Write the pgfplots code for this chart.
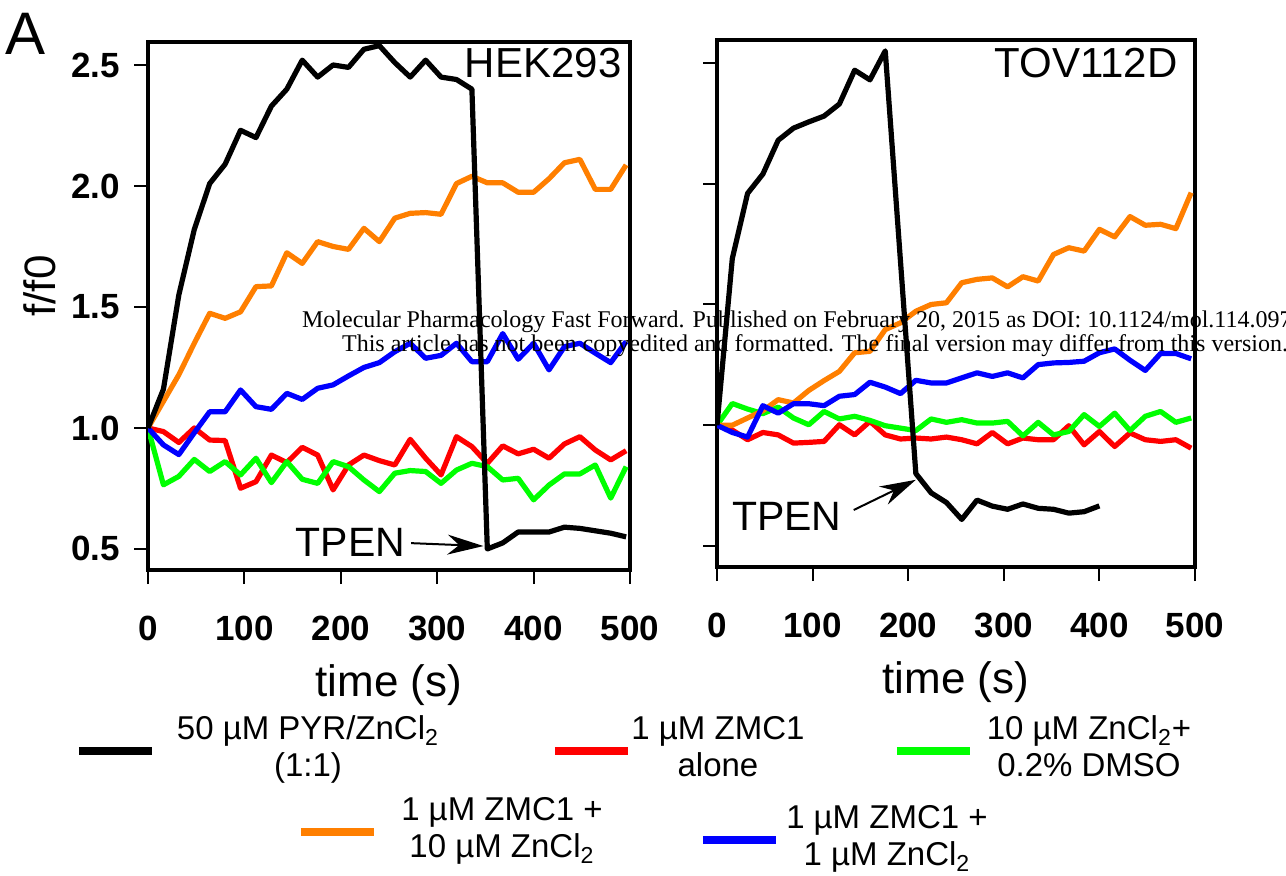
\documentclass[border=0pt]{standalone}
\usepackage{fontspec}
\setmainfont{Liberation Sans}
\newfontfamily\wmfont{Liberation Serif}
\usepackage{pgfplots}
\usepackage{pgfplotstable}
\pgfplotsset{compat=1.18}
\usetikzlibrary{arrows.meta}

\definecolor{cOrange}{RGB}{255,127,0}
\definecolor{cGreen}{RGB}{0,255,0}
\definecolor{cRed}{RGB}{255,0,0}
\definecolor{cBlue}{RGB}{0,0,255}

% HEK293 panel: time, black, orange, blue, red, green
\pgfplotstableread{
t    blk    org    blu    red    grn
0    1.00   1.00   1.00   1.00   1.00
16   1.16   1.11   0.93   0.985  0.765
32   1.55   1.22   0.89   0.94   0.80
48   1.82   1.35   0.98   1.00   0.87
64   2.01   1.474  1.067  0.95   0.82
80   2.09   1.453  1.067  0.948  0.861
96   2.23   1.48   1.157  0.751  0.806
112  2.20   1.584  1.088  0.778  0.875
128  2.33   1.587  1.077  0.888  0.774
144  2.40   1.724  1.143  0.857  0.861
160  2.52   1.68   1.118  0.92   0.788
176  2.45   1.77   1.164  0.888  0.771
192  2.50   1.75   1.178  0.744  0.861
208  2.49   1.738  1.215  0.847  0.84
224  2.565  1.825  1.25   0.888  0.785
240  2.58   1.77   1.27   0.865  0.737
256  2.51   1.867  1.315  0.847  0.813
272  2.45   1.887  1.35   0.953  0.824
288  2.52   1.89   1.288  0.875  0.82
304  2.45   1.883  1.30   0.806  0.771
320  2.44   2.01   1.35   0.964  0.826
336  2.40   2.04   1.274  0.923  0.854
352  0.50   2.013  1.274  0.854  0.84
368  0.525  2.013  1.39   0.926  0.785
384  0.57   1.974  1.284  0.893  0.792
400  0.57   1.974  1.35   0.912  0.703
416  0.57   2.03   1.24   0.875  0.764
432  0.59   2.096  1.336  0.934  0.81
448  0.585  2.11   1.35   0.964  0.81
464  0.575  1.986  1.309  0.909  0.847
480  0.565  1.986  1.27   0.868  0.71
496  0.55   2.087  1.357  0.906  0.84
}\hek

% TOV112D panel: time, orange, blue, red, green
\pgfplotstableread{
t    org    blu    red    grn
0    1.00   1.00   1.00   1.00
16   1.00   0.97   0.98   1.09
32   1.03   0.951  0.94   1.067
48   1.06   1.081  0.97   1.048
64   1.106  1.05   0.96   1.075
80   1.092  1.089  0.926  1.03
96   1.144  1.089  0.929  1.002
112  1.185  1.081  0.933  1.057
128  1.223  1.12   1.002  1.026
144  1.30   1.127  0.96   1.037
160  1.306  1.178  1.016  1.02
176  1.396  1.158  0.96   0.998
192  1.424  1.131  0.943  0.988
208  1.472  1.186  0.947  0.978
224  1.50   1.175  0.943  1.026
240  1.507  1.175  0.951  1.012
256  1.59   1.196  0.94   1.023
272  1.604  1.217  0.923  1.009
288  1.61   1.202  0.97   1.009
304  1.573  1.217  0.923  1.016
320  1.615  1.196  0.947  0.956
336  1.597  1.251  0.94   1.012
352  1.707  1.258  0.94   0.96
368  1.735  1.26   0.998  0.974
384  1.721  1.265  0.919  1.044
400  1.811  1.30   0.974  0.995
416  1.78   1.316  0.912  1.05
432  1.864  1.269  0.968  0.978
448  1.828  1.227  0.94   1.037
464  1.832  1.297  0.933  1.057
480  1.814  1.297  0.94   1.012
496  1.963  1.275  0.905  1.03
}\tov

% TOV112D black trace (no point at 192, ends at 400)
\pgfplotstableread{
t    blk
0    1.00
16   1.69
32   1.96
48   2.04
64   2.18
80   2.23
96   2.256
112  2.28
128  2.33
144  2.47
160  2.43
176  2.55
208  0.80
224  0.72
240  0.68
256  0.61
272  0.69
288  0.665
304  0.652
320  0.674
336  0.656
352  0.652
368  0.636
384  0.642
400  0.666
}\tovblk

\newcommand{\lgd}[3]{\makebox[#1][l]{\makebox[#2][c]{\begin{tabular}{@{}c@{}}#3\end{tabular}}}}

\pgfplotsset{
  panel/.style={
    scale only axis, anchor=south west,
    xmin=0, xmax=500, ymin=0.413, ymax=2.595,
    xtick={0,100,...,500}, ytick={0.5,1,1.5,2,2.5},
    tick pos=left, tick align=outside,
    major tick length=7pt,
    major tick style={line width=1pt, black},
    axis line style={line width=2pt},
    tick label style={font=\fontsize{17.5}{20}\selectfont\bfseries},
    /pgf/number format/assume math mode=true,
    yticklabel style={/pgf/number format/fixed, /pgf/number format/fixed zerofill, /pgf/number format/precision=1},
    xticklabel style={yshift=-12.5pt},
    yticklabel style={xshift=-3.5pt},
    label style={font=\fontsize{22}{26}\selectfont},
    xlabel={time (s)},
    x label style={at={(axis description cs:0.5,-0.218)}, anchor=center},
    every axis plot/.append style={line width=2.6pt, line join=round},
    legend image code/.code={\draw[#1] (0pt,0pt) -- (36.5pt,0pt);},
    legend style={draw=none, fill=none, inner sep=0pt, outer sep=0pt,
      column sep=0pt, anchor=west, nodes={inner sep=0pt, text depth=},
      cells={anchor=west},
      font=\fontsize{16.5}{18.5}\selectfont},
  }
}

\begin{document}
\begin{tikzpicture}
\useasboundingbox (0,0) rectangle (643pt,437.5pt);

\begin{axis}[panel, at={(74pt,152.5pt)}, width=241pt, height=264pt,
  ylabel={f/f0},
  y label style={at={(axis description cs:-0.224,0.538)}, anchor=center},
  legend columns=3,
  legend style={at={(axis description cs:-0.1515,-0.3428)}}]
\addplot[cRed, forget plot] table[x=t, y=red] {\hek};
\addplot[cGreen, forget plot] table[x=t, y=grn] {\hek};
\addplot[cOrange, forget plot] table[x=t, y=org] {\hek};
\addplot[cBlue, forget plot] table[x=t, y=blu] {\hek};
\addplot[black, forget plot] table[x=t, y=blk] {\hek};
\addlegendimage{black, line width=4pt}
\addlegendentry{\lgd{197.5pt}{152pt}{50 µM PYR/ZnCl\textsubscript{2}\\(1:1)}}
\addlegendimage{cRed, line width=4pt}
\addlegendentry{\lgd{130.5pt}{86pt}{1 µM ZMC1\\alone}}
\addlegendimage{cGreen, line width=4pt}
\addlegendentry{\lgd{115pt}{115pt}{10 µM ZnCl\textsubscript{2}+\\0.2\% DMSO}}
\node[anchor=north east, inner sep=0pt, font=\fontsize{21}{24}\selectfont]
  at (rel axis cs:0.983,0.99) {HEK293};
\node[anchor=base west, inner sep=0pt, font=\fontsize{20.5}{24}\selectfont]
  at (axis cs:153,0.467) {TPEN};
\draw[line width=1pt, -{Stealth[length=18pt,width=10pt]}]
  (axis cs:273,0.524) -- (axis cs:348,0.512);
\end{axis}

\begin{axis}[panel, at={(358.5pt,154pt)}, width=239pt, height=263.5pt,
  yticklabels={},
  legend columns=2,
  legend style={at={(axis description cs:-0.8787,-0.5028)}}]
\addplot[cRed, forget plot] table[x=t, y=red] {\tov};
\addplot[cGreen, forget plot] table[x=t, y=grn] {\tov};
\addplot[cOrange, forget plot] table[x=t, y=org] {\tov};
\addplot[cBlue, forget plot] table[x=t, y=blu] {\tov};
\addplot[black, forget plot] table[x=t, y=blk] {\tovblk};
\addlegendimage{cOrange, line width=4pt}
\addlegendentry{\lgd{160.5pt}{124pt}{1 µM ZMC1 +\\10 µM ZnCl\textsubscript{2}}}
\addlegendimage{cBlue, line width=4pt, yshift=-4pt}
\addlegendentry{\raisebox{0pt}[\dimexpr\height+8pt\relax][\depth]{\lgd{107pt}{107pt}{1 µM ZMC1 +\\1 µM ZnCl\textsubscript{2}}}}
\node[anchor=north east, inner sep=0pt, font=\fontsize{21}{24}\selectfont]
  at (rel axis cs:0.964,0.985) {TOV112D};
\node[anchor=base west, inner sep=0pt, font=\fontsize{20.5}{24}\selectfont]
  at (axis cs:15.4,0.566) {TPEN};
\draw[line width=1pt, -{Stealth[length=18pt,width=10pt]}]
  (axis cs:143,0.649) -- (axis cs:208,0.774);
\end{axis}

\node[anchor=base west, inner sep=0pt, font=\fontsize{30}{34}\selectfont]
  at (2.5pt,410pt) {A};
\node[anchor=base west, inner sep=0pt, font=\wmfont\fontsize{12}{14}\selectfont]
  at (150.85pt,274pt) {Molecular Pharmacology Fast Forward. Published on February 20, 2015 as DOI: 10.1124/mol.114.097014};
\node[anchor=base west, inner sep=0pt, font=\wmfont\fontsize{12}{14}\selectfont]
  at (170.85pt,262pt) {This article has not been copyedited and formatted. The final version may differ from this version.};
\end{tikzpicture}
\end{document}
